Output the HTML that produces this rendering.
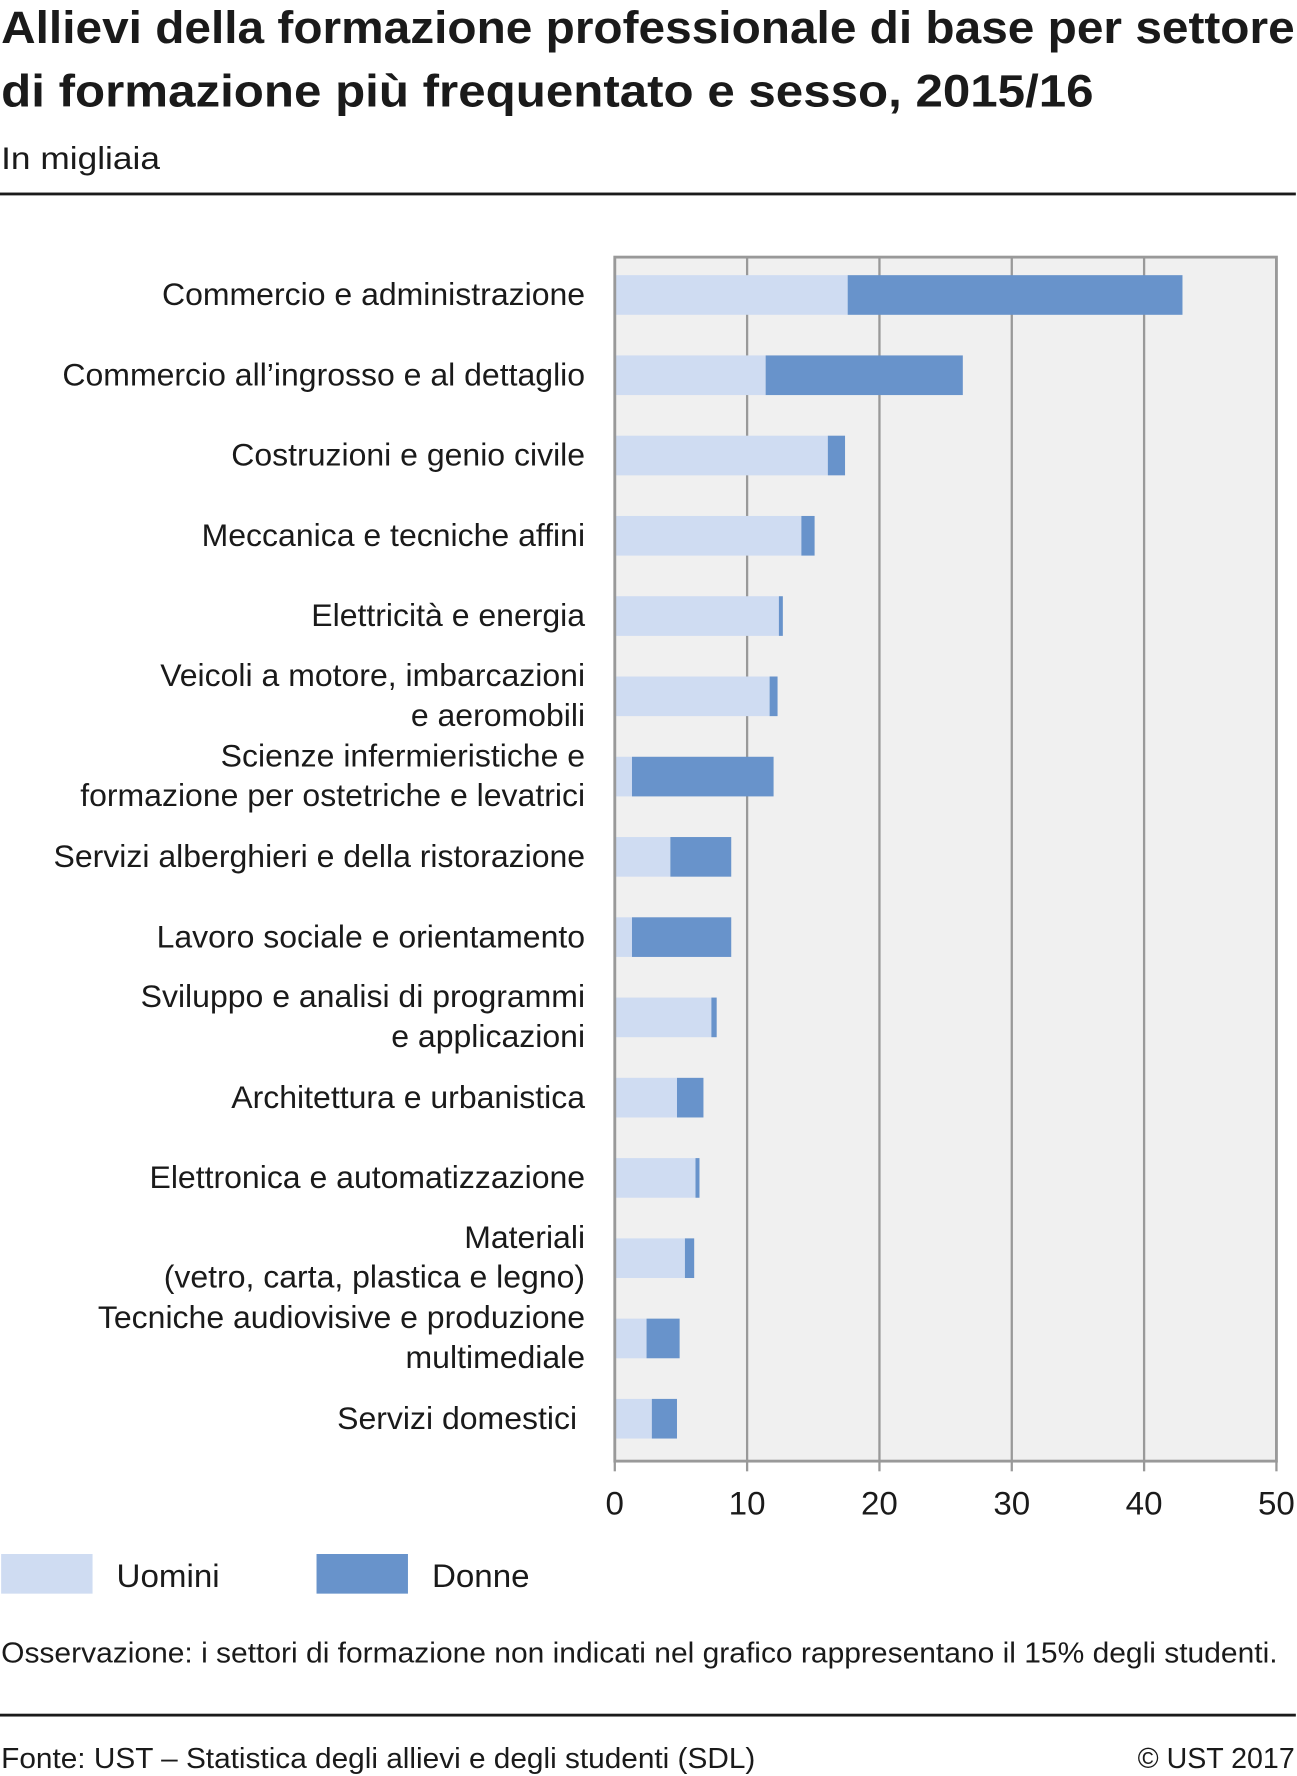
<!DOCTYPE html>
<html><head><meta charset="utf-8"><style>
html,body{margin:0;padding:0;background:#fff;width:1297px;height:1776px;overflow:hidden}
svg{display:block}
text{font-family:"Liberation Sans",sans-serif;fill:#1a1a1a}
</style></head><body>
<svg id="chart" width="1297" height="1776" viewBox="0 0 1135 1568" preserveAspectRatio="none" xmlns="http://www.w3.org/2000/svg">
<text x="1" y="38" font-size="40" font-weight="bold" textLength="1132" lengthAdjust="spacingAndGlyphs">Allievi della formazione professionale di base per settore</text>
<text x="1" y="94" font-size="40" font-weight="bold" textLength="956" lengthAdjust="spacingAndGlyphs">di formazione più frequentato e sesso, 2015/16</text>
<text x="1" y="149" font-size="28" textLength="139" lengthAdjust="spacingAndGlyphs">In migliaia</text>
<rect x="0" y="170" width="1134" height="2.5" fill="#1a1a1a"/>
<rect x="538" y="227" width="579" height="1063" fill="#f0f0f0"/>
<g id="grid"></g>
<g id="bars"></g>
<rect x="538" y="227" width="579" height="1063" fill="none" stroke="#999" stroke-width="2.5"/>
<g id="labels"></g>
<g id="ticks"></g>
<rect x="1" y="1372" width="80" height="35" fill="#cfdcf2"/>
<text x="102" y="1401" font-size="29">Uomini</text>
<rect x="277" y="1372" width="80" height="35" fill="#6893cb"/>
<text x="378" y="1401" font-size="29">Donne</text>
<text x="1" y="1468" font-size="25" textLength="1117" lengthAdjust="spacingAndGlyphs">Osservazione: i settori di formazione non indicati nel grafico rappresentano il 15% degli studenti.</text>
<rect x="0" y="1513" width="1134" height="2.5" fill="#1a1a1a"/>
<text x="1" y="1561" font-size="25" textLength="660" lengthAdjust="spacingAndGlyphs">Fonte: UST – Statistica degli allievi e degli studenti (SDL)</text>
<text x="1133" y="1561" font-size="25" text-anchor="end">© UST 2017</text>
</svg>
<script>
const categories=[["Commercio e administrazione"],["Commercio all’ingrosso e al dettaglio"],["Costruzioni e genio civile"],["Meccanica e tecniche affini"],["Elettricità e energia"],["Veicoli a motore, imbarcazioni","e aeromobili"],["Scienze infermieristiche e","formazione per ostetriche e levatrici"],["Servizi alberghieri e della ristorazione"],["Lavoro sociale e orientamento"],["Sviluppo e analisi di programmi","e applicazioni"],["Architettura e urbanistica"],["Elettronica e automatizzazione"],["Materiali","(vetro, carta, plastica e legno)"],["Tecniche audiovisive e produzione","multimediale"],["Servizi domestici"]];
const uomini=[17.6,11.4,16.1,14.1,12.4,11.7,1.3,4.2,1.3,7.3,4.7,6.1,5.3,2.4,2.8];
const donne=[25.3,14.9,1.3,1.0,0.3,0.6,10.7,4.6,7.5,0.4,2.0,0.3,0.7,2.5,1.9];
const ticks=[0,10,20,30,40,50];
const NS="http://www.w3.org/2000/svg";
const X0=538,X1=1117,Y0=227,Y1=1290,xMax=50;
const x=v=>X0+(X1-X0)*v/xMax;
const step=(Y1-Y0)/categories.length;
const yc=i=>Y0+step*(i+0.5)-2;
function mk(tag,attrs,parent){const e=document.createElementNS(NS,tag);for(const k in attrs)e.setAttribute(k,attrs[k]);parent.appendChild(e);return e;}
const grid=document.getElementById('grid'),bars=document.getElementById('bars'),labels=document.getElementById('labels'),tk=document.getElementById('ticks');
ticks.forEach((t,j)=>{
  if(j>0&&j<ticks.length-1){const g=mk('line',{x1:x(t),x2:x(t),y1:Y0,y2:Y1,stroke:'#999','stroke-width':2},grid);
  
  }
  const m=mk('line',{x1:x(t),x2:x(t),y1:Y1,y2:Y1+9,stroke:'#999','stroke-width':2},tk);
  
  
  const l=mk('text',{x:x(t),y:Y1+47,'font-size':29,'text-anchor':'middle'},tk);
  l.textContent=t;
  
  
});
categories.forEach((c,i)=>{
  const cy=yc(i),h=35;
  const r1=mk('rect',{x:x(0),y:cy-h/2,width:x(uomini[i])-x(0),height:h,fill:'#cfdcf2'},bars);
  
  
  const r2=mk('rect',{x:x(uomini[i]),y:cy-h/2,width:x(uomini[i]+donne[i])-x(uomini[i]),height:h,fill:'#6893cb'},bars);
  
  
  const ax=(i===categories.length-1)?505:512;
  c.forEach((line,k)=>{
    const by=c.length===1?cy+9:cy+9+(k===0?-18:17);
    const t=mk('text',{x:ax,y:by,'font-size':28,'text-anchor':'end'},labels);
    t.textContent=line;
    
    
  });
});
</script>
</body></html>
